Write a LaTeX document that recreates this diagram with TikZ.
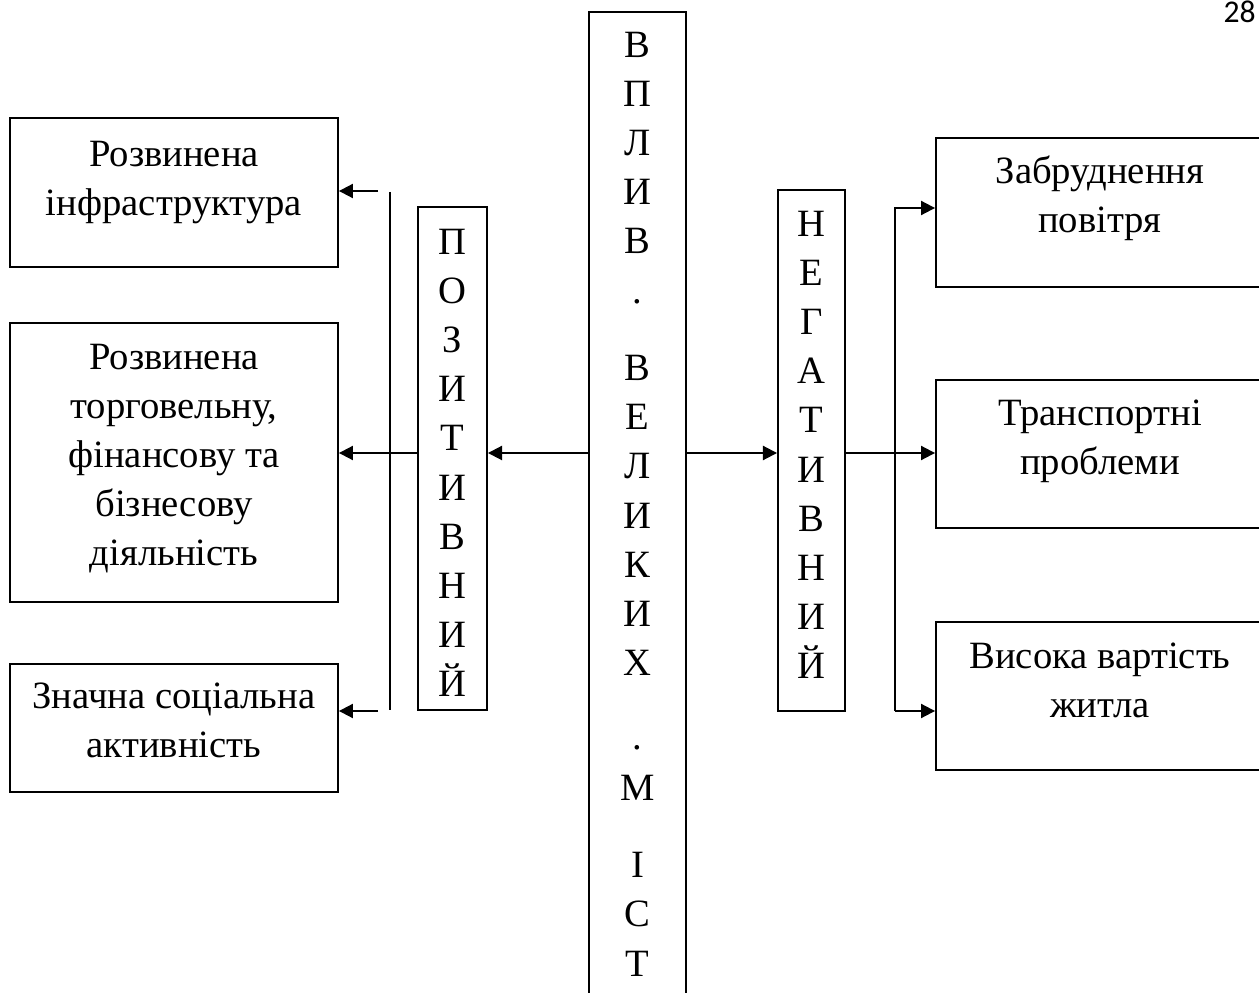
\documentclass[tikz,border=0pt]{standalone}
\usepackage{fontspec}
\setmainfont{Liberation Serif}
\newfontfamily\pagefont{Carlito}
\usetikzlibrary{arrows.meta,positioning}

\begin{document}
\begin{tikzpicture}[
    x=0.02cm, y=-0.02cm,
    box/.style={rectangle, draw, line width=1.1pt, minimum width=6.56cm, inner sep=0pt},
    column/.style={rectangle, draw, line width=1.1pt, inner sep=0pt},
    boxtext/.style={align=center, anchor=north, inner sep=0pt, font=\fontsize{22}{28}\selectfont},
    link/.style={line width=1.1pt, -{Triangle[length=8pt,width=8pt]}},
    bar/.style={line width=1.1pt}
]
\clip (0,0) rectangle (1259,993);

% Nodes
\node [box, minimum height=2.98cm] (infra) at (174,192.5) {};
\node [box, minimum height=5.58cm] (trade) at (174,462.5) {};
\node [box, minimum height=2.56cm] (social) at (174,728) {};
\node [box, minimum height=2.98cm] (air) at (1100,212.5) {};
\node [box, minimum height=2.96cm] (transport) at (1100,454) {};
\node [box, minimum height=2.96cm] (housing) at (1100,696) {};
\node [column, minimum width=1.38cm, minimum height=10.06cm] (pozyt) at (452.5,458.5) {};
\node [column, minimum width=1.34cm, minimum height=10.42cm] (negat) at (811.5,450.5) {};
\node [column, minimum width=1.94cm, minimum height=21.76cm] (vplyv) at (637.5,556) {};

\node [boxtext] (infratxt) at (174,131.4) {\strut Розвинена\\інфраструктура};
\node [boxtext] (tradetxt) at (174,334.4) {\strut Розвинена\\торговельну,\\фінансову та\\бізнесову\\діяльність};
\node [boxtext] (socialtxt) at (174,673.4) {\strut Значна соціальна\\активність};
\node [boxtext] (airtxt) at (1100,148.4) {\strut Забруднення\\повітря};
\node [boxtext] (transporttxt) at (1100,390.4) {\strut Транспортні\\проблеми};
\node [boxtext] (housingtxt) at (1100,633.4) {\strut Висока вартість\\житла};
\node [boxtext] (pozyttxt) at (452.5,219.4) {\strut П\\О\\З\\И\\Т\\И\\В\\Н\\И\\Й};
\node [boxtext] (negattxt) at (811.5,201.4) {\strut Н\\Е\\Г\\А\\Т\\И\\В\\Н\\И\\Й};
\node [boxtext] (vplyvtxt) at (637.5,22.4) {\strut В\\П\\Л\\И\\В\\.\\[16pt]В\\Е\\Л\\И\\К\\И\\Х\\[14pt].\\[1pt]М\\[16pt]І\\С\\Т};

\node [font=\pagefont\fontsize{18}{20}\selectfont, anchor=base east, inner sep=0pt] (pagenum) at (1256,23) {28};

% Edges
\coordinate (lbartop) at (390,192);
\coordinate (lbarbot) at (390,710);
\coordinate (infrain) at (378,191);
\coordinate (socialin) at (378,711);
\draw [bar] (lbartop) -- (lbarbot);
\draw [link] (infrain) -- (infra.east |- infrain);
\draw [link] (socialin) -- (social.east |- socialin);
\draw [link] (vplyv.west |- 0,453) -- (pozyt.east |- 0,453);
\draw [link] (pozyt.west |- 0,453) -- (trade.east |- 0,453);

\coordinate (rbartop) at (895,208);
\coordinate (rbarbot) at (895,711);
\draw [link] (vplyv.east |- 0,453) -- (negat.west |- 0,453);
\draw [link] (negat.east |- 0,453) -- (transport.west |- 0,453);
\draw [link] (rbarbot) |- (air.west |- rbartop);
\draw [link] (rbarbot) -- (housing.west |- rbarbot);

\end{tikzpicture}
\end{document}
